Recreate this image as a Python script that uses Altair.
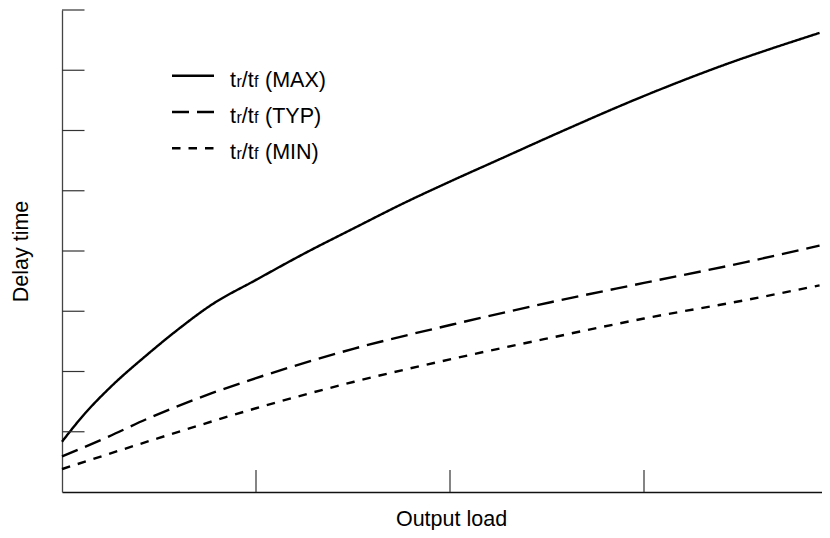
import altair as alt
import pandas as pd

# ---- data ----
series_names = ["MAX", "TYP", "MIN"]

load_max = [0.0, 0.12, 0.24, 0.443, 0.595, 0.772, 1.0, 1.253, 1.506, 1.759, 2.012, 2.24, 2.6, 2.96, 3.372, 3.905]
delay_max = [0.835, 1.31, 1.71, 2.29, 2.69, 3.11, 3.52, 3.965, 4.38, 4.79, 5.17, 5.50, 6.02, 6.52, 7.04, 7.62]

load_typ = [0.0, 0.24, 0.443, 0.772, 1.0, 1.506, 2.012, 2.519, 3.0, 3.531, 3.905]
delay_typ = [0.59, 0.92, 1.22, 1.64, 1.89, 2.38, 2.78, 3.15, 3.47, 3.82, 4.09]

load_min = [0.0, 0.493, 1.0, 1.506, 2.012, 2.519, 3.0, 3.531, 3.905]
delay_min = [0.38, 0.89, 1.39, 1.83, 2.21, 2.56, 2.88, 3.19, 3.43]

x_ticks = [1, 2, 3]
y_ticks = [1, 2, 3, 4, 5, 6, 7, 8]

rows = []
for name, xs, ys in [("MAX", load_max, delay_max), ("TYP", load_typ, delay_typ), ("MIN", load_min, delay_min)]:
    for xv, yv in zip(xs, ys):
        rows.append({"series": name, "load": xv, "delay": yv})
df = pd.DataFrame(rows)

FONT = "Liberation Sans"
FS = 21.5
SUB = 16

W = 760
x_scale = alt.Scale(domain=[0, W / 194.0], nice=False, zero=False)
y_scale = alt.Scale(domain=[0, 8], nice=False, zero=False)
dash_scale = alt.Scale(domain=series_names, range=[[1, 0], [17, 8], [8.5, 8]])

x_axis = alt.Axis(title="Output load", labels=False, ticks=False, grid=False,
                  domainColor="#111", domainWidth=1.6,
                  titleX=389, titleY=33, titleBaseline="alphabetic", titleAlign="center",
                  titleFont=FONT, titleFontSize=FS, titleFontWeight="normal", titleColor="#000")
y_axis = alt.Axis(title="Delay time", labels=False, ticks=False, grid=False,
                  domainColor="#444", domainWidth=1.3,
                  titleX=-35, titleY=241, titleAngle=270, titleBaseline="alphabetic", titleAlign="center",
                  titleFont=FONT, titleFontSize=FS, titleFontWeight="normal", titleColor="#000")

lines = alt.Chart(df).mark_line(color="black", strokeWidth=2.4, interpolate="monotone").encode(
    x=alt.X("load:Q", scale=x_scale, axis=x_axis),
    y=alt.Y("delay:Q", scale=y_scale, axis=y_axis),
    strokeDash=alt.StrokeDash("series:N", scale=dash_scale, legend=None),
    detail="series:N",
)

xt = pd.DataFrame({"load": x_ticks})
x_tick_marks = alt.Chart(xt).mark_rule(color="#333", strokeWidth=1.2).encode(
    x=alt.X("load:Q", scale=x_scale, axis=x_axis),
    y=alt.value(460), y2=alt.value(482),
)

yt = pd.DataFrame({"delay": y_ticks})
y_tick_marks = alt.Chart(yt).mark_rule(color="#333", strokeWidth=1.2).encode(
    y=alt.Y("delay:Q", scale=y_scale, axis=y_axis),
    x=alt.value(0), x2=alt.value(22.5),
)

# ---- legend (drawn by hand, with subscripts) ----
leg_rows = []
for i, name in enumerate(series_names):
    ly = 65.7 + i * 36.3
    leg_rows.append({"series": name, "label": "(" + name + ")", "ly": ly, "ty": ly + 11})
leg = pd.DataFrame(leg_rows)

leg_lines = alt.Chart(leg).mark_rule(color="black", strokeWidth=2.4).encode(
    y=alt.Y("ly:Q", scale=None),
    x=alt.value(110), x2=alt.value(152),
    strokeDash=alt.StrokeDash("series:N", scale=dash_scale, legend=None),
)

def piece(text, px, size, field=False):
    base = alt.Chart(leg).mark_text(align="left", baseline="alphabetic", font=FONT,
                                    fontSize=size, color="black")
    enc = dict(y=alt.Y("ty:Q", scale=None), x=alt.value(px))
    if field:
        enc["text"] = alt.Text("label:N")
    else:
        enc["text"] = alt.value(text)
    return base.encode(**enc)

leg_text = [
    piece("t", 168, FS),
    piece("r", 174.4, SUB),
    piece("/", 179.8, FS),
    piece("t", 185.8, FS),
    piece("f", 192.0, SUB),
    piece(None, 203, FS, field=True),
]

chart = alt.layer(lines, x_tick_marks, y_tick_marks, leg_lines, *leg_text).properties(
    width=W, height=482,
    autosize=alt.AutoSizeParams(type="none"),
    padding={"left": 54, "top": 2, "right": 0, "bottom": 38},
).configure_view(stroke=None)

chart.save("out.html", embed_options={"renderer": "svg", "actions": False})
